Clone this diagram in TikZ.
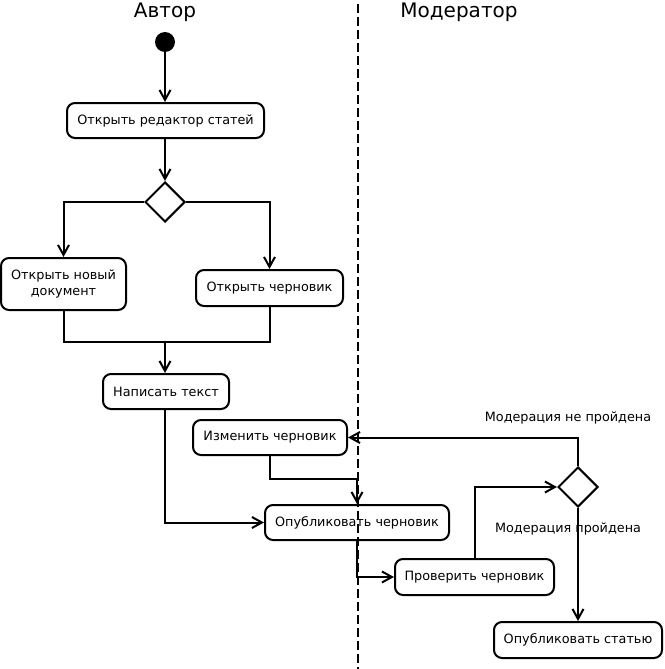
\documentclass[tikz,border=0pt]{standalone}
\usepackage{fontspec}
\setmainfont{DejaVu Sans}
\usetikzlibrary{arrows.meta,shapes.geometric}
\begin{document}
\begin{tikzpicture}[x=1pt,y=-1pt,
  act/.style={draw,rounded corners=8pt,line width=2pt,align=center,
    font=\fontsize{12.8}{16}\selectfont,inner sep=0pt},
  flow/.style={line width=2pt,-{Straight Barb[length=10pt,width=11pt,line width=2pt]}},
  plain/.style={line width=2pt},
  choice/.style={draw,diamond,line width=2pt,minimum width=40pt,
    minimum height=40pt,inner sep=0pt},
  lane/.style={font=\fontsize{20}{22}\selectfont},
  guard/.style={font=\fontsize{12.8}{15}\selectfont,inner sep=0pt},
  lanesep/.style={line width=2pt,dash pattern=on 9pt off 4pt}]
\useasboundingbox (0,0) rectangle (664,669);

% swimlane headers and separator
\node[lane] (author) at (165,12) {Автор};
\node[lane] (moder) at (459,12) {Модератор};
\coordinate (laneTop) at (358,4);
\coordinate (laneBot) at (358,669);
\draw[lanesep] (laneTop) -- (laneBot);

% activities
\node[circle,fill,minimum size=20pt,inner sep=0pt] (start) at (165,42) {};
\node[act,minimum width=197pt,minimum height=35pt] (open) at (165.5,120.5) {Открыть редактор статей};
\node[choice] (d1) at (165,202) {};
\node[act,minimum width=125pt,minimum height=52pt] (new) at (63.5,284) {Открыть новый\\документ};
\node[act,minimum width=147pt,minimum height=36pt] (draft) at (269.5,288) {Открыть черновик};
\node[act,minimum width=126pt,minimum height=35pt] (write) at (166,391.5) {Написать текст};
\node[act,minimum width=154pt,minimum height=35pt] (edit) at (270,437.5) {Изменить черновик};
\node[act,minimum width=184pt,minimum height=35pt] (pubdraft) at (357,522.5) {Опубликовать черновик};
\node[act,minimum width=159pt,minimum height=36pt] (check) at (474.5,577) {Проверить черновик};
\node[choice] (d2) at (578,487) {};
\node[act,minimum width=168pt,minimum height=36pt] (pubart) at (578,640) {Опубликовать статью};

% guard labels
\node[guard] (fail) at (568,418) {Модерация не пройдена};
\node[guard] (pass) at (568,529) {Модерация пройдена};

% control flow
\coordinate (join) at (165,342);
\coordinate (bend) at (357,479);
\draw[flow] (start) -- (start |- open.north);
\draw[flow] (start |- open.south) -- (d1);
\draw[flow] (d1.west) -| (new.north);
\draw[flow] (d1.east) -| (draft.north);
\draw[plain] (new.south) |- (join) -| (draft.south);
\draw[flow] (join) -- (join |- write.north);
\draw[flow] (write.south -| join) |- (pubdraft.west);
\draw[flow] (edit.south) |- (bend) -- (pubdraft.north);
\draw[flow] (pubdraft.south) |- (check.west);
\draw[flow] (check.north) |- (d2.west);
\draw[flow] (d2.north) |- (edit.east);
\draw[flow] (d2.south) -- (pubart.north);
\end{tikzpicture}
\end{document}
